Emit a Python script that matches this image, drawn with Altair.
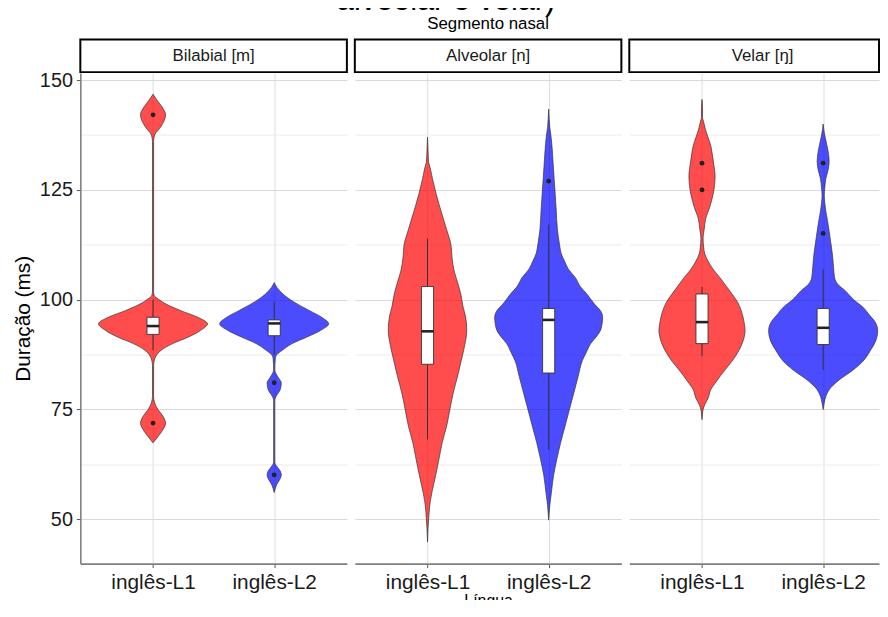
import altair as alt
import pandas as pd

# ---------------- data ----------------
segments = ["Bilabial [m]", "Alveolar [n]", "Velar [ŋ]"]
languages = ["inglês-L1", "inglês-L2"]
lang_pos = [1, 2]

# violin outlines: duration (ms) and relative half-width (1 = widest violin)
bil_l1_ms = [67.4, 68.5, 70, 71.9, 73.5, 75, 76.5, 78, 85, 86.5, 88.5, 90, 91.5, 93, 94.5, 96, 97.5, 99, 100.2, 101, 102, 136, 137.5, 139.5, 142.1, 144, 145.5, 146.8]
bil_l1_w = [0, .07, .16, .23, .18, .09, .03, .01, .01, .03, .15, .36, .65, .87, 1, .82, .51, .24, .09, .02, .01, .01, .03, .15, .23, .16, .07, 0]

bil_l2_ms = [56.1, 57, 58, 59, 60.1, 61, 62, 63, 77, 77.6, 78.5, 79.5, 81.1, 82, 83, 84, 86.6, 87.5, 88.5, 90, 91.5, 93, 94.5, 96, 97.5, 99.5, 101.3, 102.8, 103.9]
bil_l2_w = [0, .02, .05, .1, .13, .11, .05, .01, .01, .02, .06, .11, .13, .09, .04, .01, .02, .05, .15, .33, .6, .85, 1, .87, .65, .36, .16, .05, 0]

alv_l1_ms = [44.8, 48, 51.6, 54, 56.1, 60, 63.7, 67.5, 71.2, 75, 78.7, 82.5, 86.2, 89.5, 93, 96, 98.5, 101.3, 104, 106.5, 109.5, 112.5, 116, 120.1, 124, 127.6, 130, 131.4, 134, 137]
alv_l1_w = [0, .01, .03, .05, .08, .15, .21, .27, .35, .41, .47, .55, .62, .68, .72, .7, .65, .61, .55, .49, .45, .43, .35, .25, .16, .09, .05, .02, .01, 0]

alv_l2_ms = [49.8, 51.5, 53.1, 56.1, 60, 63.7, 67.5, 71.2, 75, 78.7, 82.5, 86.2, 88, 90, 91.5, 93, 94.5, 96, 97.5, 99, 101.3, 103, 105, 107, 108.8, 110.5, 112.5, 116, 120.1, 124, 127.6, 131.4, 135.1, 137.5, 139.3, 141, 143.4]
alv_l2_w = [0, .01, .02, .05, .09, .15, .22, .3, .38, .46, .54, .62, .69, .77, .87, .95, .98, .99, .95, .84, .7, .58, .49, .36, .29, .23, .2, .16, .14, .12, .1, .08, .06, .04, .02, .01, 0]

vel_l1_ms = [72.7, 74, 75, 76.1, 77.5, 79.5, 81.5, 84, 86, 88.5, 90.5, 93, 95, 97.5, 99.5, 101.3, 103, 105, 107, 108.8, 110.5, 112, 114.1, 116, 118.6, 121, 123.8, 126, 128.3, 130.5, 133, 135.1, 137, 138.9, 140.5, 141.5, 143.5, 145.6]
vel_l1_w = [0, .01, .02, .05, .11, .16, .27, .42, .55, .68, .75, .79, .77, .72, .65, .55, .45, .33, .2, .11, .05, .03, .02, .04, .07, .14, .2, .23, .24, .22, .19, .16, .11, .06, .03, .01, .01, 0]

vel_l2_ms = [75, 76.5, 78, 79.5, 81.5, 84, 86, 88.5, 90.5, 93, 95, 96.5, 98.3, 100, 102, 103.5, 105, 107.5, 110.3, 113, 115.6, 118, 120.1, 122, 123.8, 125.5, 127.6, 129.5, 131.4, 133, 135.1, 136.8, 138.1, 139, 140]
vel_l2_w = [0, .02, .05, .11, .27, .55, .73, .87, .96, 1, .95, .85, .73, .56, .41, .27, .21, .19, .17, .14, .11, .08, .05, .03, .02, .03, .05, .09, .11, .1, .07, .04, .02, .01, 0]

violin_sets = [
    (0, 0, bil_l1_ms, bil_l1_w), (0, 1, bil_l2_ms, bil_l2_w),
    (1, 0, alv_l1_ms, alv_l1_w), (1, 1, alv_l2_ms, alv_l2_w),
    (2, 0, vel_l1_ms, vel_l1_w), (2, 1, vel_l2_ms, vel_l2_w),
]

# boxplot statistics (order: Bil-L1, Bil-L2, Alv-L1, Alv-L2, Vel-L1, Vel-L2)
box_seg = [0, 0, 1, 1, 2, 2]
box_lang = [0, 1, 0, 1, 0, 1]
box_lo = [88.5, 87.5, 68.2, 65.9, 87.1, 84.0]
box_q1 = [92.1, 91.8, 85.3, 83.3, 90.0, 89.8]
box_med = [94.0, 94.6, 92.8, 95.4, 94.9, 93.6]
box_q3 = [96.0, 95.4, 103.0, 98.0, 101.3, 98.0]
box_hi = [100.0, 99.5, 113.9, 117.1, 102.9, 106.9]

# outliers
out_seg = [0, 0, 0, 0, 1, 2, 2, 2, 2]
out_lang = [0, 0, 1, 1, 1, 0, 0, 1, 1]
out_ms = [142.1, 71.9, 81.1, 60.1, 127.0, 131.1, 125.0, 131.1, 115.1]

# ---------------- build tables ----------------
HALF = 0.45   # violin half width at its widest (x units)
BOXW = 0.05   # box half width (x units)

rows = []
for s, l, ms, w in violin_sets:
    for m, r in zip(ms, w):
        rows.append({"seg": segments[s], "lang": languages[l], "ms": m,
                     "xl": lang_pos[l] - r * HALF, "xr": lang_pos[l] + r * HALF})
vdf = pd.DataFrame(rows)

bdf = pd.DataFrame({
    "seg": [segments[s] for s in box_seg],
    "lang": [languages[l] for l in box_lang],
    "pos": [lang_pos[l] for l in box_lang],
    "lo": box_lo, "q1": box_q1, "med": box_med, "q3": box_q3, "hi": box_hi,
})
bdf["xb1"] = bdf["pos"] - BOXW
bdf["xb2"] = bdf["pos"] + BOXW

odf = pd.DataFrame({
    "seg": [segments[s] for s in out_seg],
    "lang": [languages[l] for l in out_lang],
    "pos": [lang_pos[l] for l in out_lang],
    "ms": out_ms,
})

# ---------------- styling ----------------
FONT = "Liberation Sans"
PANEL_W = 269
PX_PER_UNIT = PANEL_W / 2.2
PANEL_WIDTHS = [269, 269, 252]      # last panel runs off the right edge in the original
PANEL_H = 495
STRIP_H = 33

y_scale = alt.Scale(domain=[39.9, 151.6], nice=False, zero=False)
y_vals = [50, 62.5, 75, 87.5, 100, 112.5, 125, 137.5, 150]
grid_color = {"condition": {"test": "datum.value % 25 === 0", "value": "#D9D9D9"}, "value": "#EBEBEB"}
color = alt.Color("lang:N", scale=alt.Scale(domain=languages, range=["#FF0000", "#0000FF"]), legend=None)


def x_scale_for(w):
    return alt.Scale(domain=[0.4, 0.4 + w / PX_PER_UNIT], nice=False, zero=False)


def y_axis(first):
    if first:
        return alt.Axis(values=y_vals, labelExpr="datum.value % 25 === 0 ? datum.label : ''",
                        title="Duração (ms)", grid=True, gridColor=grid_color, gridWidth=1,
                        domain=True, domainColor="#7F7F7F", domainWidth=1.6,
                        ticks=True, tickSize=4, tickColor="#555555",
                        tickOpacity={"condition": {"test": "datum.value % 25 === 0", "value": 1}, "value": 0},
                        labelFont=FONT, labelFontSize=20, labelColor="#1A1A1A", labelPadding=4,
                        labelOverlap=False,
                        titleFont=FONT, titleFontSize=21, titleFontWeight="normal", titleColor="#000000",
                        titlePadding=6, minExtent=0)
    return alt.Axis(values=y_vals, labels=False, ticks=False, domain=False, title=None,
                    grid=True, gridColor=grid_color, gridWidth=1, minExtent=0, maxExtent=0)


def x_axis(show_title):
    return alt.Axis(values=[1, 2], labelExpr="datum.value === 1 ? 'inglês-L1' : 'inglês-L2'",
                    title="Língua" if show_title else None,
                    grid=True, gridColor="#DDDDDD", gridWidth=1,
                    domainColor="#7F7F7F", domainWidth=1.6, tickSize=4, tickColor="#555555",
                    labelFont=FONT, labelFontSize=21, labelColor="#1A1A1A", labelPadding=4,
                    labelFlush=False, labelOverlap=False,
                    titleFont=FONT, titleFontSize=16, titleFontWeight="normal", titleColor="#000000",
                    titlePadding=0)


def panel(si):
    seg = segments[si]
    w = PANEL_WIDTHS[si]
    xs = x_scale_for(w)
    ya = y_axis(si == 0)
    xa = x_axis(si == 1)
    vd = vdf[vdf.seg == seg]
    bd = bdf[bdf.seg == seg]
    od = odf[odf.seg == seg]

    violin = alt.Chart(vd).mark_area(
        orient="horizontal", interpolate="monotone", fillOpacity=0.7,
        stroke="#333333", strokeWidth=0.7
    ).encode(
        y=alt.Y("ms:Q", scale=y_scale, axis=ya),
        x=alt.X("xl:Q", scale=xs, axis=xa),
        x2="xr:Q",
        color=color,
        detail="lang:N",
    )
    whisk_lo = alt.Chart(bd).mark_rule(color="#333333", strokeWidth=1).encode(
        x=alt.X("pos:Q", scale=xs, axis=xa),
        y=alt.Y("lo:Q", scale=y_scale, axis=ya), y2="q1:Q")
    whisk_hi = alt.Chart(bd).mark_rule(color="#333333", strokeWidth=1).encode(
        x=alt.X("pos:Q", scale=xs, axis=xa),
        y=alt.Y("q3:Q", scale=y_scale, axis=ya), y2="hi:Q")
    box = alt.Chart(bd).mark_rect(fill="white", stroke="#333333", strokeWidth=0.9).encode(
        x=alt.X("xb1:Q", scale=xs, axis=xa), x2="xb2:Q",
        y=alt.Y("q1:Q", scale=y_scale, axis=ya), y2="q3:Q")
    median = alt.Chart(bd).mark_rule(color="#222222", strokeWidth=2.6).encode(
        x=alt.X("xb1:Q", scale=xs, axis=xa), x2="xb2:Q",
        y=alt.Y("med:Q", scale=y_scale, axis=ya))
    outl = alt.Chart(od).mark_circle(size=24, color="#222222", opacity=1).encode(
        x=alt.X("pos:Q", scale=xs, axis=xa),
        y=alt.Y("ms:Q", scale=y_scale, axis=ya))
    return alt.layer(violin, whisk_lo, whisk_hi, box, median, outl).properties(
        width=w, height=PANEL_H)


def strip(si):
    w = PANEL_WIDTHS[si]
    t = alt.TitleParams(text="Segmento nasal" if si == 1 else " ", fontSize=17, font=FONT,
                        fontWeight="normal", color="#000000", anchor="middle",
                        baseline="alphabetic", offset=-6)
    return alt.Chart(pd.DataFrame({"seg": [segments[si]]})).mark_text(
        font=FONT, fontSize=17, color="#1A1A1A", baseline="middle", align="center"
    ).encode(
        text="seg:N", x=alt.value(PANEL_W / 2), y=alt.value(STRIP_H / 2)
    ).properties(width=w, height=STRIP_H, title=t,
                 view=alt.ViewBackground(fill="white", stroke="black", strokeWidth=2))


cols = [alt.vconcat(strip(i), panel(i), spacing=1, bounds="flush") for i in range(3)]

chart = alt.hconcat(*cols, spacing=6).properties(
    title=alt.TitleParams(text="alveolar e velar)", fontSize=31, font=FONT, fontWeight="normal",
                          color="#000000", anchor="middle", frame="bounds",
                          baseline="alphabetic", offset=-27),
    padding={"left": 4, "right": 0, "top": -26, "bottom": -12},
).configure_view(stroke="transparent")

chart.save("out.html", embed_options={"renderer": "svg", "actions": False})
